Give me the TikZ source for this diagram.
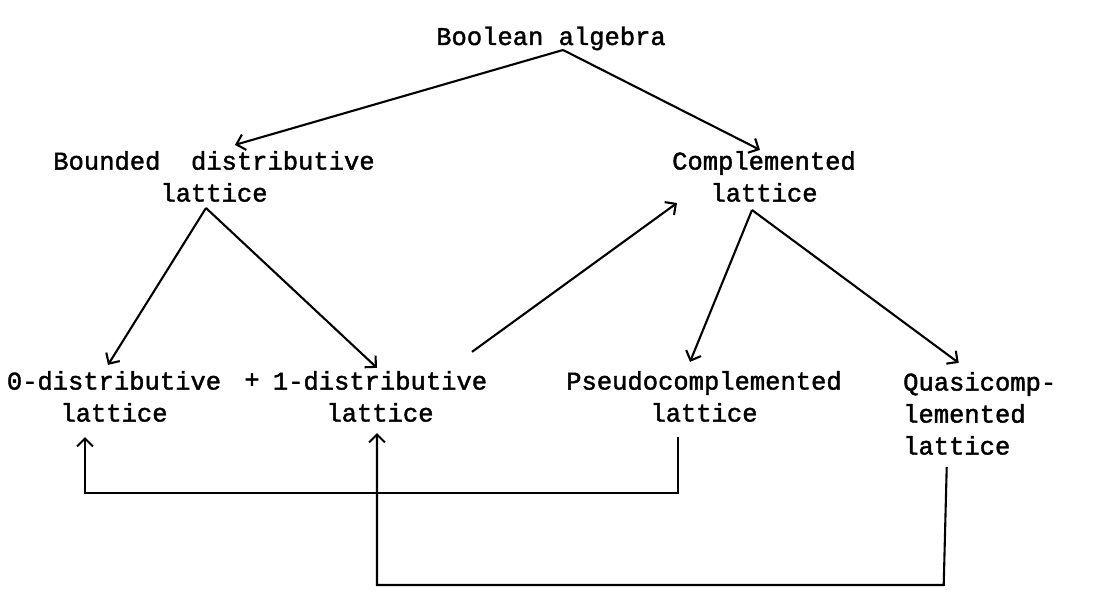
\documentclass[tikz,border=0pt]{standalone}
\usepackage{fontspec}
\newfontfamily\tw[FakeBold=1.6]{Liberation Mono}
\usetikzlibrary{arrows.meta}
\begin{document}
\begin{tikzpicture}[x=1pt,y=-1pt,
  lbl/.style={inner sep=0pt,font=\tw\fontsize{25.5}{32}\selectfont,align=center},
  arr/.style={line width=2.1pt,-{Straight Barb[length=8pt,width=16pt,line width=2.1pt]}},
  ln/.style={line width=2.1pt}]
\useasboundingbox[fill=white] (0,0) rectangle (1109,597);
\node[lbl,anchor=base] (bool) at (551,45) {Boolean algebra};
\node[lbl,anchor=south] (bdl) at (214,202) {Bounded\ \ distributive\\lattice};
\node[lbl,anchor=south] (comp) at (764,202) {Complemented\\lattice};
\node[lbl,anchor=south] (zero) at (114,422) {0-distributive\\lattice};
\node[lbl,anchor=base] (plus) at (252,388) {+};
\node[lbl,anchor=south] (one) at (380,422) {1-distributive\\lattice};
\node[lbl,anchor=south] (pseudo) at (704,422) {Pseudocomplemented\\lattice};
\node[lbl,anchor=south west,align=left] (quasi) at (903,455) {Quasicomp-\\lemented\\lattice};
% tree arrows
\draw[arr] ([shift={(12,5)}]bool.base) -- ([shift={(21,-6)}]bdl.north);
\draw[arr] ([shift={(12,5)}]bool.base) -- ([shift={(-4,-1)}]comp.north);
\draw[arr] ([shift={(-8,6)}]bdl.south) -- ([shift={(-6,-6)}]zero.north);
\draw[arr] ([shift={(-8,6)}]bdl.south) -- ([shift={(-3,-3)}]one.north);
\draw[arr] ([shift={(92,-19)}]one.north) -- ([shift={(-87,1)}]comp.south);
\draw[arr] ([shift={(-12,8)}]comp.south) -- ([shift={(-14,-9)}]pseudo.north);
\draw[arr] ([shift={(-12,8)}]comp.south) -- ([shift={(-21,-9)}]quasi.north);
% bracket arrows
\draw[arr] ([shift={(-26,15)}]pseudo.south) -- ++(0,56) -| ([shift={(-29,15)}]zero.south);
\draw[arr] ([shift={(-33,12)}]quasi.south) -- ++(-3,118) -| ([shift={(-3,11)}]one.south);
\end{tikzpicture}
\end{document}
